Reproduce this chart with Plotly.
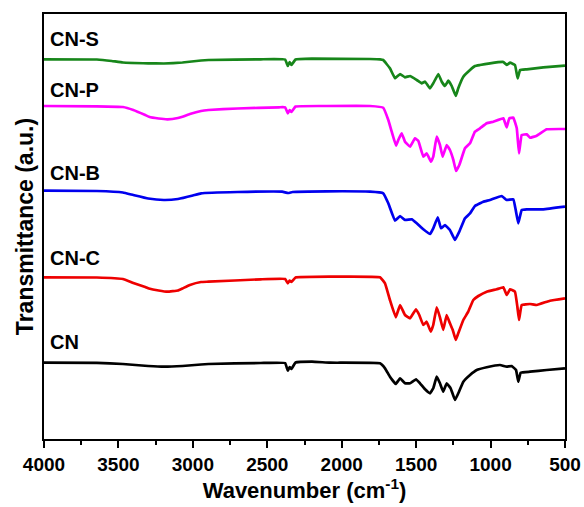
import plotly.graph_objects as go

# ---------------- data (wavenumber, transmittance a.u. with vertical offsets) ----------------
cn_s_w = [4000, 3645, 3545, 3470, 3300, 3195, 3070, 2945, 2895, 2544, 2380, 2362, 2350, 2338, 2310, 2200,
          1810, 1743, 1721, 1676, 1642, 1608, 1575, 1541, 1496, 1463, 1440, 1407, 1385, 1351, 1328, 1306,
          1284, 1261, 1234, 1217, 1183, 1138, 1105, 1071, 1004, 914, 892, 869, 836, 818, 802, 757, 646, 500]
cn_s_t = [379.7, 379.5, 378, 376.5, 375.7, 375.5, 376.5, 378.5, 379, 379.7, 379.5, 373, 377, 374, 379.5, 380.3,
          380, 379.7, 379, 370.7, 360.7, 365, 361.7, 363, 359, 355.7, 357.3, 350.7, 355.7, 365, 357.3, 353,
          358.3, 353, 343, 350.7, 362.3, 369, 373, 374, 375.7, 377, 374, 376.3, 374, 360.7, 369, 369.7, 371.7, 373.3]

cn_p_w = [4000, 3645, 3470, 3400, 3320, 3295, 3230, 3170, 3100, 3070, 3020, 2945, 2895, 2700, 2420, 2380,
          2362, 2350, 2338, 2310, 2100, 1810, 1721, 1687, 1664, 1635, 1620, 1597, 1575, 1541, 1508, 1485,
          1452, 1429, 1400, 1385, 1362, 1340, 1322, 1295, 1273, 1250, 1232, 1210, 1172, 1138, 1105, 1071,
          1026, 982, 914, 892, 874, 847, 824, 809, 791, 757, 735, 690, 623, 500]
cn_p_t = [333, 332.7, 332, 329, 324, 322.3, 320.5, 319.7, 321, 322.3, 325, 328, 329, 330.5, 331.7, 331.7,
          325.7, 329, 327, 332.5, 333, 333, 331.3, 319, 307.3, 293.3, 299, 305.7, 297.3, 292.3, 300.7, 298,
          282.3, 285.7, 277.3, 282.3, 302.3, 294, 282.3, 294, 289, 279, 268, 274, 290.7, 295.7, 307.3, 310.7,
          315.7, 317.3, 320.7, 311.7, 320.7, 321.3, 310.7, 285.7, 304, 304.7, 301.3, 303.3, 309.7, 310]

cn_b_w = [4000, 3645, 3470, 3400, 3300, 3195, 3100, 3000, 2945, 2700, 2400, 2360, 2330, 2100, 1810, 1721,
          1687, 1642, 1608, 1575, 1530, 1496, 1452, 1407, 1385, 1355, 1333, 1306, 1273, 1239, 1210, 1172,
          1138, 1105, 1049, 1004, 925, 892, 847, 829, 814, 791, 757, 646, 500]
cn_b_t = [248.3, 248, 246.5, 244, 240.5, 239, 240, 243.5, 245.7, 247, 247.3, 246, 247, 247.7, 247.3, 245.7,
          235.7, 218.3, 223, 219, 219.7, 215.7, 209.7, 205, 210.7, 221.7, 210.7, 214, 209, 199, 207.3, 220.7,
          225.7, 233, 237.3, 239, 243, 239, 239.7, 227.3, 215.7, 229, 229.7, 229.7, 232.3]

cn_c_w = [4000, 3645, 3470, 3400, 3320, 3295, 3230, 3170, 3100, 3070, 3020, 2945, 2895, 2544, 2380, 2362,
          2350, 2338, 2310, 2079, 1743, 1709, 1676, 1637, 1608, 1575, 1541, 1501, 1479, 1452, 1429, 1402,
          1385, 1362, 1340, 1318, 1295, 1273, 1254, 1234, 1217, 1183, 1150, 1116, 1082, 1026, 959, 914,
          892, 869, 836, 820, 809, 791, 735, 690, 601, 500]
cn_c_t = [161.7, 161.5, 160, 156, 152, 150.5, 148.5, 147.3, 148.5, 150.5, 154, 157, 157.3, 159.7, 160, 155.7,
          158.5, 157, 161.5, 162.3, 161.7, 155.7, 139, 121.7, 134, 124, 120.7, 129.7, 124, 114, 117.3, 107.3,
          114, 131.7, 121.7, 109, 124, 115.7, 109, 99, 105.7, 119, 127.3, 139, 143, 147.3, 149.7, 151.7,
          144, 149.7, 147.3, 132.3, 119, 134, 135, 134, 138.3, 140.7]

cn_w = [4000, 3645, 3470, 3300, 3195, 3070, 2945, 2895, 2544, 2380, 2362, 2350, 2338, 2310, 2200, 2079,
        1743, 1709, 1676, 1637, 1608, 1575, 1541, 1501, 1474, 1440, 1407, 1385, 1362, 1340, 1318, 1295,
        1268, 1239, 1217, 1183, 1138, 1093, 1026, 937, 892, 858, 829, 814, 798, 735, 623, 500]
cn_t = [76.3, 76.2, 75, 73, 72.3, 73, 74.5, 75, 76, 76, 68.3, 72, 70, 76.5, 77.3, 76.3,
        75.7, 70.7, 62.3, 55, 60.7, 55.7, 55.7, 59.7, 55.7, 49.7, 45.7, 50.7, 62.3, 55.7, 47.3, 55.7,
        50.7, 39, 45.7, 57.3, 64, 69, 71.7, 74, 72.3, 73, 69, 57.3, 66.3, 67.3, 69, 70.7]

series_names = ["CN-S", "CN-P", "CN-B", "CN-C", "CN"]
series_colors = ["#17861a", "#ff00ff", "#0000ee", "#ee0000", "#000000"]
label_y = [400.5, 349, 266, 181, 97]
x_ticks = [4000, 3500, 3000, 2500, 2000, 1500, 1000, 500]

series = [(cn_s_w, cn_s_t), (cn_p_w, cn_p_t), (cn_b_w, cn_b_t), (cn_c_w, cn_c_t), (cn_w, cn_t)]

FONT = "Arial, Liberation Sans, sans-serif"

fig = go.Figure()
for (w, t), name, col in zip(series, series_names, series_colors):
    fig.add_trace(go.Scatter(x=w, y=t, mode="lines", name=name,
                             line=dict(color=col, width=2.7, shape="spline", smoothing=0.25)))

for name, ly in zip(series_names, label_y):
    fig.add_annotation(x=3973, y=ly, text=name, showarrow=False, xanchor="left", yanchor="middle",
                       font=dict(family=FONT, size=20, color="black", weight="bold"))

fig.update_layout(
    width=584, height=507,
    margin=dict(l=44, r=19, t=14, b=68),
    paper_bgcolor="white", plot_bgcolor="white",
    showlegend=False,
)
fig.update_xaxes(
    automargin=False,
    range=[4000, 500], tickvals=x_ticks, ticktext=[str(v) for v in x_ticks],
    ticks="outside", ticklen=7, tickwidth=2, tickcolor="black",
    minor=dict(dtick=250, ticks="outside", ticklen=4, tickwidth=2, tickcolor="black"),
    showline=True, linewidth=2, linecolor="black", mirror=True,
    showgrid=False, zeroline=False,
    tickfont=dict(family=FONT, size=19, color="black", weight="bold"),
    title=dict(text="Wavenumber (cm<sup>-1</sup>)", standoff=4,
               font=dict(family=FONT, size=22, color="black", weight="bold")),
)
fig.update_yaxes(
    automargin=False,
    range=[0, 425], showticklabels=False, ticks="",
    showline=True, linewidth=2, linecolor="black", mirror=True,
    showgrid=False, zeroline=False,
    title=dict(text="Transmittance (a.u.)", standoff=2,
               font=dict(family=FONT, size=23, color="black", weight="bold")),
)

fig.write_html("out.html", config={"displayModeBar": False},
               post_script="document.body.style.margin='0';document.body.style.padding='0';")
